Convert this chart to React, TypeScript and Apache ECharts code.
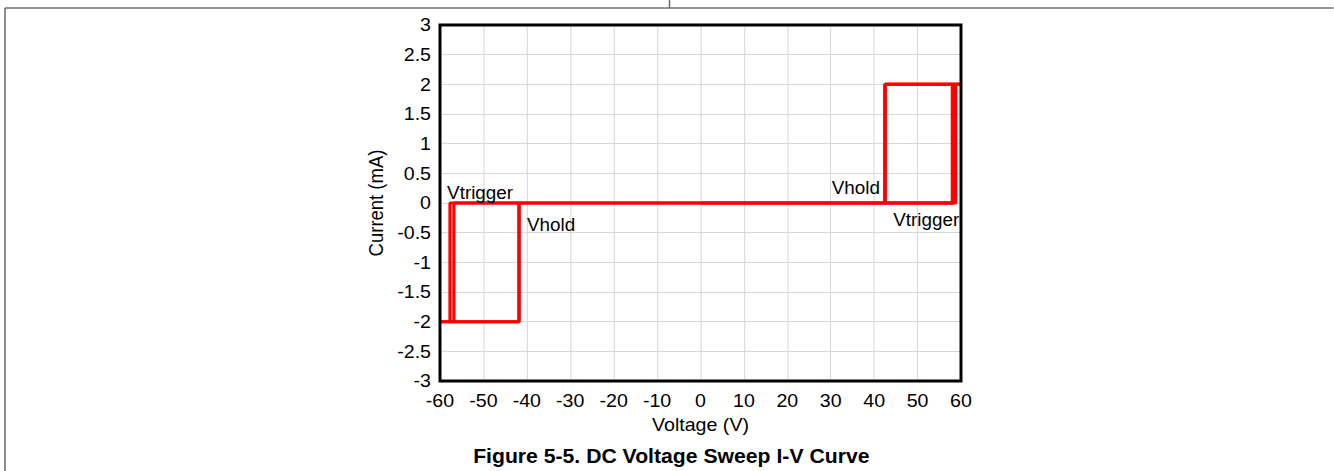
import React, { useEffect, useRef } from "react";
import * as echarts from "echarts";

// ---- data ----
const xAxisName = "Voltage (V)";
const yAxisName = "Current (mA)";
const figureTitle = "Figure 5-5. DC Voltage Sweep I-V Curve";

// each sweep: voltage points and matching current points (mA)
const sweepVoltages: number[][] = [
  [0, -57.7, -57.7, -60, -41.8, -41.8, 0],
  [0, -56.8, -56.8, -60, -41.8, -41.8, 0],
  [0, 58.0, 58.0, 60, 42.5, 42.5, 0],
  [0, 58.4, 58.4, 60, 42.5, 42.5, 0],
  [0, 58.8, 58.8, 60, 42.5, 42.5, 0],
];
const sweepCurrents: number[][] = [
  [0, 0, -2, -2, -2, 0, 0],
  [0, 0, -2, -2, -2, 0, 0],
  [0, 0, 2, 2, 2, 0, 0],
  [0, 0, 2, 2, 2, 0, 0],
  [0, 0, 2, 2, 2, 0, 0],
];

const annotationLabels = ["Vtrigger", "Vhold", "Vhold", "Vtrigger"];
const annotationVoltages = [-57.7, -41.8, 42.5, 58.8];
const annotationCurrents = [0, 0, 0, 0];

// ---- layout ----
const S = 1.06; // slight horizontal stretch of the reference
const PAGE_W = 1334;
const PAGE_H = 471;
const CW = PAGE_W / S;
const FONT = "'Liberation Sans', Arial, sans-serif";
const FS = 18.5;
const FS_NOTE = 17.8;

// annotation text placement (align, vAlign, dx, dy), dx in page px
const annotationStyles: Array<[string, string, number, number]> = [
  ["left", "bottom", -2.9, -1.5],
  ["left", "top", 8, 13],
  ["right", "bottom", -5, -6],
  ["right", "top", 3.5, 7.5],
];

export default function App() {
  const ref = useRef<HTMLDivElement>(null);
  useEffect(() => {
    if (!ref.current) return;
    const chart = echarts.init(ref.current, null, { renderer: "svg" });
    const series = sweepVoltages.map((vs, i) => ({
      type: "line",
      data: vs.map((v, j) => [v, sweepCurrents[i][j]]),
      showSymbol: false,
      symbol: "none",
      lineStyle: { color: "#ff0000", width: 3 },
      z: 3,
    }));
    chart.setOption({
      animation: false,
      backgroundColor: "#ffffff",
      title: {
        text: figureTitle,
        left: 666 / S,
        top: 441,
        textAlign: "center",
        textStyle: { fontFamily: FONT, fontSize: 20, fontWeight: "bold", color: "#000" },
      },
      grid: {
        left: 440 / S,
        top: 25,
        width: 521 / S,
        height: 356,
        show: true,
        borderColor: "#000",
        borderWidth: 2.8,
        backgroundColor: "transparent",
        containLabel: false,
        z: 4,
      },
      xAxis: {
        type: "value",
        min: -60,
        max: 60,
        interval: 10,
        name: xAxisName,
        nameLocation: "middle",
        nameGap: 32,
        nameTextStyle: { fontFamily: FONT, fontSize: FS, color: "#000" },
        axisLine: { show: false },
        axisTick: { show: false },
        axisLabel: { fontFamily: FONT, fontSize: FS, color: "#000", margin: 10 },
        splitLine: { show: true, lineStyle: { color: "#d9d9d9", width: 1 } },
      },
      yAxis: {
        type: "value",
        min: -3,
        max: 3,
        interval: 0.5,
        name: yAxisName,
        nameLocation: "middle",
        nameGap: 50.5,
        nameTextStyle: { fontFamily: FONT, fontSize: FS, color: "#000" },
        axisLine: { show: false },
        axisTick: { show: false },
        axisLabel: { fontFamily: FONT, fontSize: FS, color: "#000", margin: 8.5 },
        splitLine: { show: true, lineStyle: { color: "#d9d9d9", width: 1 } },
      },
      series,
    });

    const texts = annotationLabels.map((label, i) => {
      const p = chart.convertToPixel({ gridIndex: 0 }, [annotationVoltages[i], annotationCurrents[i]]) as number[];
      const [align, vAlign, dx, dy] = annotationStyles[i];
      return {
        type: "text",
        x: p[0] + dx / S,
        y: p[1] + dy,
        z: 10,
        style: {
          text: label,
          fontFamily: FONT,
          fontSize: FS_NOTE,
          fill: "#000",
          align,
          verticalAlign: vAlign,
        },
      };
    });
    const frameColor = "#707070";
    const frame = [
      { type: "line", shape: { x1: 5 / S, y1: 8, x2: CW, y2: 8 }, style: { stroke: frameColor, lineWidth: 1.5 } },
      { type: "line", shape: { x1: 5 / S, y1: 8, x2: 5 / S, y2: PAGE_H }, style: { stroke: frameColor, lineWidth: 1.5 } },
      { type: "line", shape: { x1: 669.5 / S, y1: 0, x2: 669.5 / S, y2: 8 }, style: { stroke: frameColor, lineWidth: 1.5 } },
    ];
    chart.setOption({ graphic: [...frame, ...texts] });
    return () => chart.dispose();
  }, []);
  return (
    <div style={{ position: "absolute", left: 0, top: 0, width: PAGE_W, height: PAGE_H, overflow: "hidden", background: "#fff" }}>
      <div
        ref={ref}
        style={{ width: CW, height: PAGE_H, transform: `scaleX(${S})`, transformOrigin: "0 0" }}
      />
    </div>
  );
}
